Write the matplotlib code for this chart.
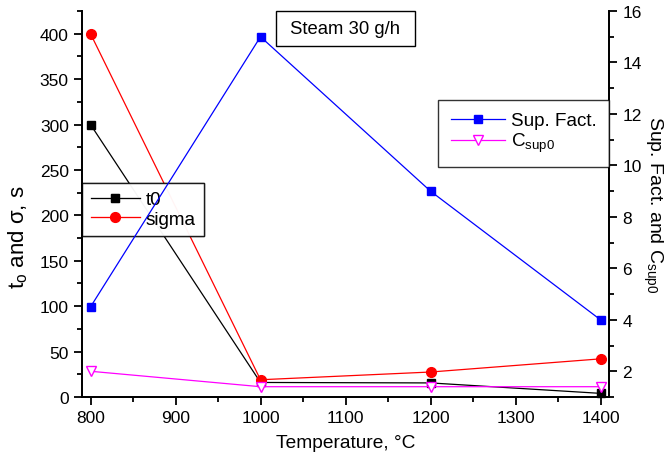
import matplotlib
matplotlib.use("Agg")
import matplotlib.pyplot as plt
from matplotlib.ticker import MultipleLocator

plt.rcParams['font.family'] = ['Liberation Sans', 'DejaVu Sans']
plt.rcParams['mathtext.fontset'] = 'custom'
plt.rcParams['mathtext.rm'] = 'Liberation Sans'
plt.rcParams['mathtext.it'] = 'Liberation Sans'

temperature = [800, 1000, 1200, 1400]
t0 = [300, 16, 15.5, 4]
sigma = [400, 19, 27.5, 42]
sup_fact = [4.5, 15, 9, 4]
c_sup0 = [2, 1.4, 1.4, 1.4]

fig = plt.figure(figsize=(6.69, 4.64), dpi=100)
ax = fig.add_axes([82 / 669, 1 - 398 / 464, (609 - 82) / 669, (398 - 12) / 464])
ax2 = ax.twinx()

l1, = ax.plot(temperature, t0, color='black', lw=0.9, marker='s', ms=6.2,
              mfc='black', mec='black', label='t0', clip_on=False, zorder=3)
l2, = ax.plot(temperature, sigma, color='red', lw=0.9, marker='o', ms=7,
              mfc='red', mec='red', label='sigma', clip_on=False, zorder=3)
l3, = ax2.plot(temperature, sup_fact, color='blue', lw=0.9, marker='s', ms=6.2,
               mfc='blue', mec='blue', label='Sup. Fact.', clip_on=False)
l4, = ax2.plot(temperature, c_sup0, color='magenta', lw=0.9, marker='v', ms=7.5,
               mfc='white', mec='magenta', label=r'C$_{\mathrm{sup0}}$', clip_on=False)

ax.set_xlim(790, 1410)
ax.set_ylim(0, 425)
ax2.set_ylim(1, 16)

ax.xaxis.set_major_locator(MultipleLocator(100))
ax.xaxis.set_minor_locator(MultipleLocator(50))
ax.yaxis.set_major_locator(MultipleLocator(50))
ax.yaxis.set_minor_locator(MultipleLocator(25))
ax2.yaxis.set_major_locator(MultipleLocator(2))
ax2.yaxis.set_minor_locator(MultipleLocator(1))

for a in (ax, ax2):
    a.spines['top'].set_visible(False)
    for s in a.spines.values():
        s.set_linewidth(1.3)
    a.tick_params(which='major', direction='out', length=6, width=1.3, labelsize=12.5)
    a.tick_params(which='minor', direction='out', length=3.5, width=1.3)

ax.set_xlabel('Temperature, °C', fontsize=13.8, labelpad=6)
ax.set_ylabel(r't$_{\mathrm{o}}$ and σ, s', fontsize=16)
ax.yaxis.set_label_coords(-0.098, 0.417)
ax2.set_ylabel(r'Sup. Fact. and C$_{\mathrm{sup0}}$', fontsize=14, rotation=-90, labelpad=16)

leg_common = dict(fontsize=13.6, frameon=True, fancybox=False, edgecolor='black',
                  borderaxespad=0, handletextpad=0.3)

leg1 = ax.legend(handles=[l1, l2], loc='upper left', bbox_to_anchor=(0.0, 0.555),
                 handlelength=2.6, borderpad=0.45, labelspacing=0.1, **leg_common)
leg1.get_frame().set_linewidth(1.0)
ax.add_artist(leg1)
leg1.set_zorder(10)

leg2 = ax2.legend(handles=[l3, l4], loc='upper right', bbox_to_anchor=(1.0, 0.77),
                  handlelength=2.9, borderpad=0.65, labelspacing=0.1, **leg_common)
leg2.get_frame().set_linewidth(1.0)

ax2.text(0.5, 0.977, ' Steam 30 g/h ', transform=ax.transAxes, fontsize=13.3,
         ha='center', va='top',
         bbox=dict(boxstyle='square,pad=0.5', fc='white', ec='black', lw=1.0))

fig.savefig('out.png', dpi=100)
